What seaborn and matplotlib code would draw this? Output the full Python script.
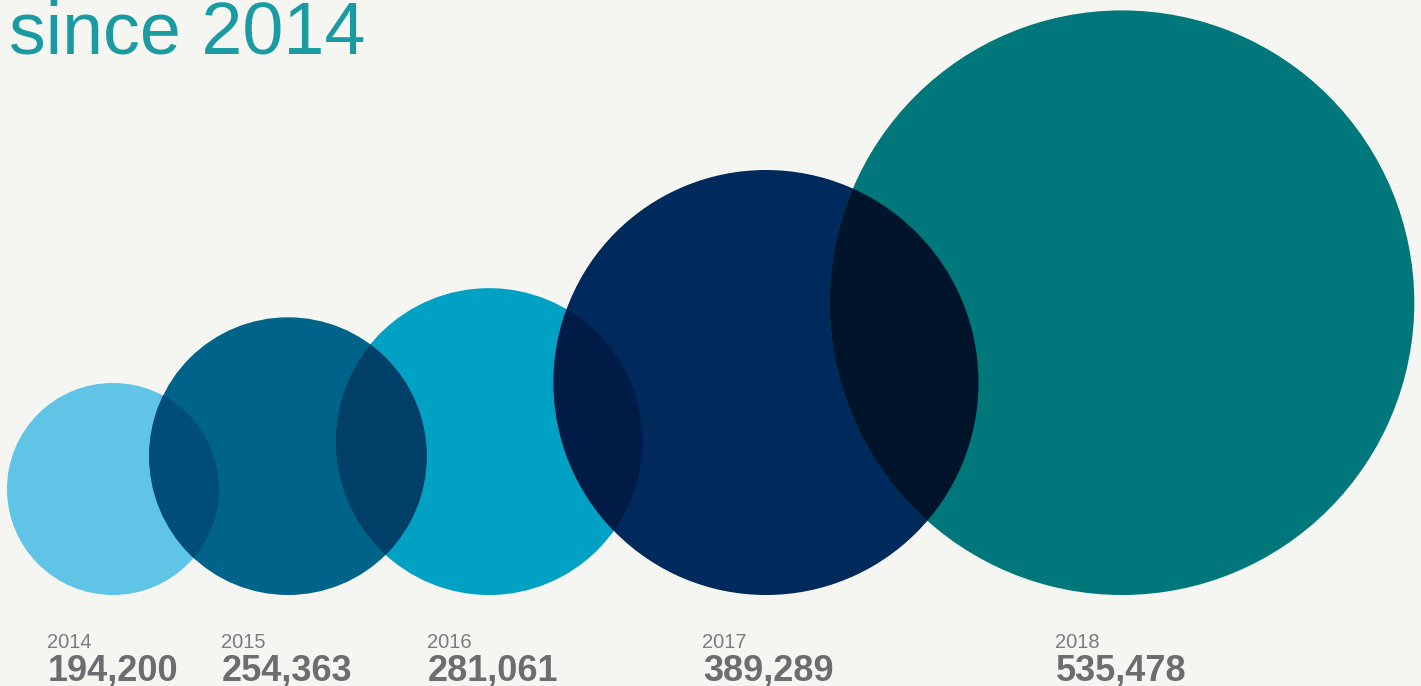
import matplotlib
matplotlib.use("Agg")
import matplotlib.pyplot as plt
from matplotlib.patches import Circle
from matplotlib import colors as mcolors
import seaborn as sns

# ---- data ----
years = ["2014", "2015", "2016", "2017", "2018"]
values = [194200, 254363, 281061, 389289, 535478]
value_labels = ["194,200", "254,363", "281,061", "389,289", "535,478"]
title_text = "since 2014"

# ---- style / layout ----
circle_colors = ["#5FC4E5", "#006389", "#00A1C2", "#002A5C", "#00777A"]
bg = "#F5F6F1"
center_x = [113, 288, 489, 766, 1122]     # layout (px)
base_y = 595                                # common bottom of circles (px)
label_x = [47, 221, 427, 702, 1055]
px_per_unit = 292.3 / 535478                # radius scale (diameter ~ value)

sns.set_theme(style="white", rc={"axes.facecolor": bg, "figure.facecolor": bg})

fig = plt.figure(figsize=(14.21, 6.86), dpi=100)
ax = fig.add_axes([0, 0, 1, 1])
ax.set_xlim(0, 1421)
ax.set_ylim(686, 0)
ax.set_axis_off()

def multiply(c1, c2):
    a = mcolors.to_rgb(c1)
    b = mcolors.to_rgb(c2)
    return tuple(x * y for x, y in zip(a, b))

patches = []
for i, v in enumerate(values):
    r = v * px_per_unit
    c = Circle((center_x[i], base_y - r), r, facecolor=circle_colors[i],
               edgecolor="none", zorder=2 + i)
    ax.add_patch(c)
    patches.append(c)

# overlapping regions (multiply blend) between neighbours
for i in range(1, len(values)):
    r = values[i] * px_per_unit
    ov = Circle((center_x[i], base_y - r), r,
                facecolor=multiply(circle_colors[i - 1], circle_colors[i]),
                edgecolor="none", zorder=10 + i)
    ax.add_patch(ov)
    ov.set_clip_path(patches[i - 1])

for i in range(len(values)):
    ax.text(label_x[i], 648, years[i], fontsize=14.5, family="Liberation Sans",
            fontweight="normal", color="#7B7C7F", va="baseline", ha="left")
    ax.text(label_x[i] + 1, 680, value_labels[i], fontsize=26,
            family="Liberation Sans", fontweight="bold", color="#6C6D70",
            va="baseline", ha="left")

ax.text(9, 53, title_text, fontsize=53, family="Liberation Sans",
        fontweight="normal", color="#1A9BA1", va="baseline", ha="left")

fig.savefig("out.png", dpi=100, facecolor=bg)
